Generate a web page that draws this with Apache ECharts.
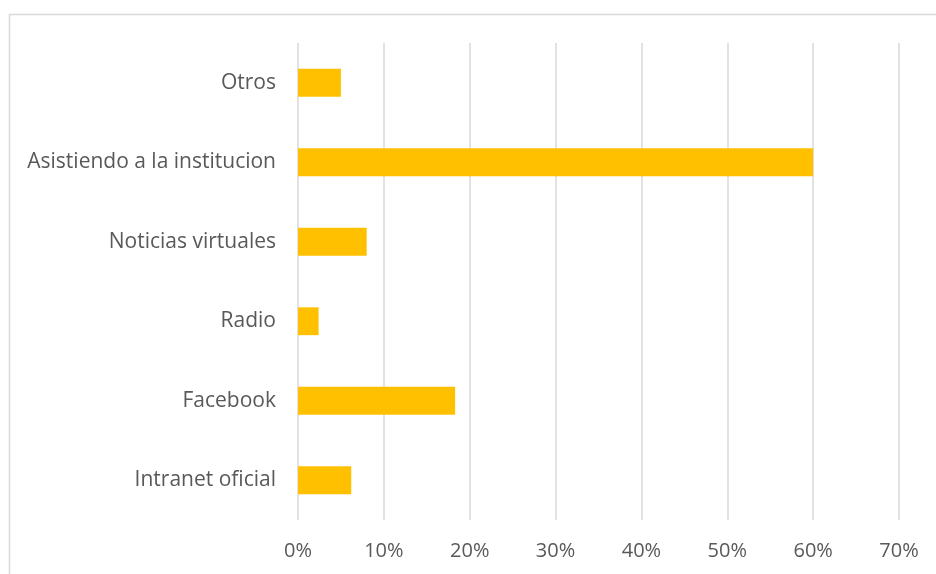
<!DOCTYPE html>
<html>
<head>
<meta charset="utf-8">
<script src="https://cdn.jsdelivr.net/npm/echarts@6/dist/echarts.min.js"></script>
<style>
  html, body { margin: 0; padding: 0; background: #fff; }
  #chart { width: 936px; height: 574px; }
</style>
</head>
<body>
<div id="chart"></div>
<script>
// Channels, listed bottom to top as they appear on the category axis
const categories = ['Intranet oficial', 'Facebook', 'Radio', 'Noticias virtuales', 'Asistiendo a la institucion', 'Otros'];
// Share of respondents per channel (%)
const shares = [6.2, 18.3, 2.4, 8.0, 60.0, 5.0];
// Value axis range and step (%)
const axisMin = 0;
const axisMax = 70;
const axisStep = 10;

const labelFont = '"Open Sans", "Liberation Sans", Arial, sans-serif';

const chart = echarts.init(document.getElementById('chart'), null, { renderer: 'canvas' });

chart.setOption({
  animation: false,
  backgroundColor: '#ffffff',
  graphic: [{
    type: 'rect',
    shape: { x: 9.5, y: 14.5, width: 960, height: 600 },
    style: { fill: 'none', stroke: '#d9d9d9', lineWidth: 1.5 },
    silent: true,
    z: -1
  }],
  grid: { left: 298, right: 37, top: 43, bottom: 54, containLabel: false },
  xAxis: {
    type: 'value',
    min: axisMin,
    max: axisMax,
    interval: axisStep,
    axisLine: { show: false },
    axisTick: { show: false },
    splitLine: { show: true, lineStyle: { color: '#d9d9d9', width: 1.5 } },
    axisLabel: {
      formatter: v => v + '%',
      color: '#595959',
      fontFamily: labelFont,
      fontSize: 20,
      margin: 21
    }
  },
  yAxis: {
    type: 'category',
    data: categories,
    axisLine: { show: false },
    axisTick: { show: false },
    splitLine: { show: false },
    axisLabel: {
      color: '#595959',
      fontFamily: labelFont,
      fontSize: 21,
      margin: 22
    }
  },
  series: [{
    type: 'bar',
    data: shares,
    barWidth: '35%',
    itemStyle: { color: '#ffc000' }
  }]
});
</script>
</body>
</html>
